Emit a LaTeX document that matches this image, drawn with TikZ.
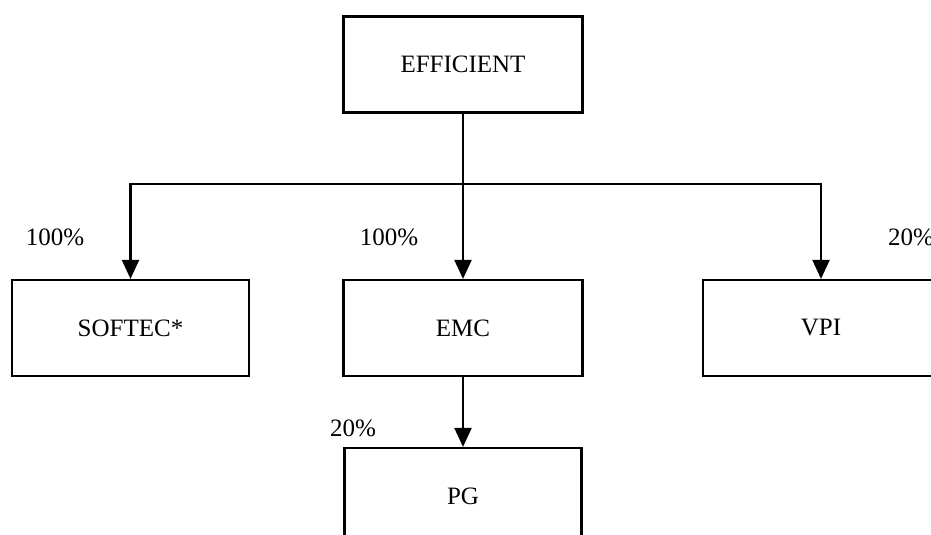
\documentclass[tikz,border=0pt]{standalone}
\usepackage{fontspec}
\setmainfont{Liberation Serif}
\usetikzlibrary{arrows.meta}
\begin{document}
\begin{tikzpicture}[x=1pt,y=-1pt,
  orgbox/.style={draw,line width=2.2pt,minimum width=#1,minimum height=96pt,inner sep=0pt,font=\fontsize{25}{29}\selectfont},
  orgbox/.default=238pt,
  conn/.style={line width=2.2pt},
  arr/.style={line width=2.2pt,-{Triangle[width=17pt,length=19pt]}},
  pct/.style={font=\fontsize{25}{29}\selectfont,inner sep=0pt}]
\useasboundingbox (0,0) rectangle (931,535);
\node[orgbox=239pt] (eff) at (463,64.5) {EFFICIENT};
\node[orgbox=237pt] (softec) at (130.5,328) {SOFTEC*};
\node[orgbox=239pt] (emc) at (463,328) {EMC};
\node[orgbox=236pt] (vpi) at (821,328) {VPI};
\node[orgbox=237pt] (pg) at (463,496) {PG};
\coordinate (j) at (463,184);
\draw[conn] (eff.south) -- (j);
\draw[arr] (j) -- (emc.north);
\draw[arr] (j) -| (softec.north);
\draw[arr] (j) -| (vpi.north);
\draw[arr] (emc.south) -- (pg.north);
\node[pct] (l1) at (55,237) {100\%};
\node[pct] (l2) at (389,237) {100\%};
\node[pct,anchor=west] (l3) at (888,237) {20\%};
\node[pct] (l4) at (353,428) {20\%};
\end{tikzpicture}
\end{document}
